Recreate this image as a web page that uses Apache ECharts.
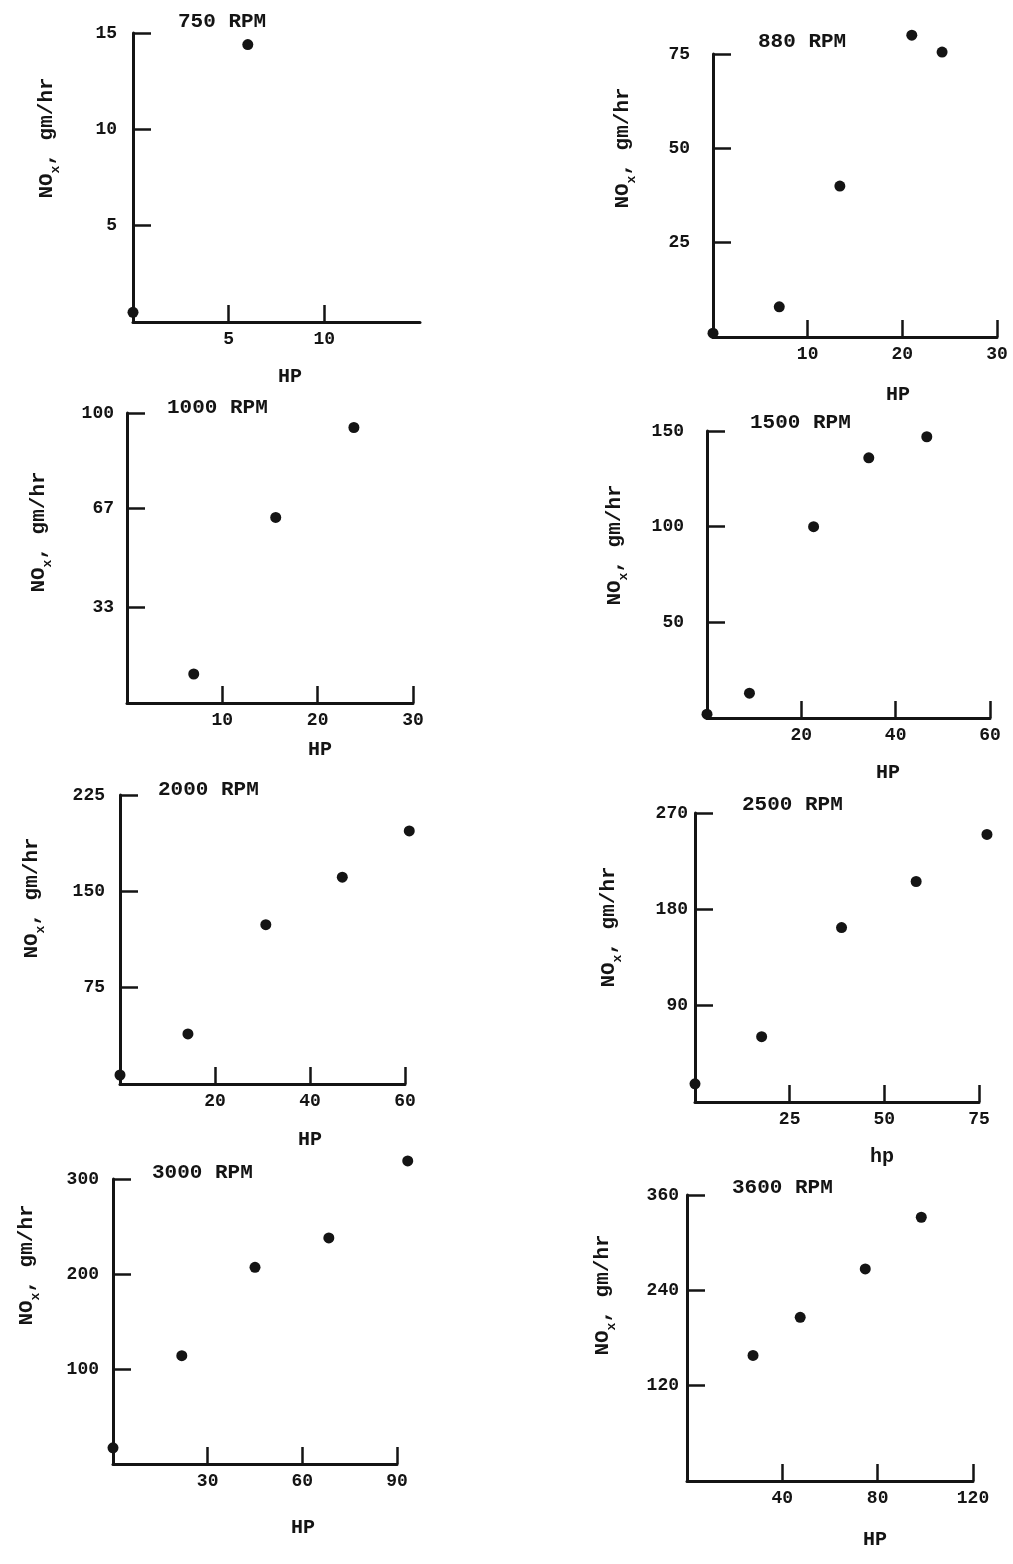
<!DOCTYPE html>
<html>
<head>
<meta charset="utf-8">
<script src="https://cdn.jsdelivr.net/npm/echarts@6/dist/echarts.min.js"></script>
<style>
html,body{margin:0;padding:0;background:#fff;}
#chart{width:1013px;height:1564px;}
</style>
</head>
<body>
<div id="chart"></div>
<script>
// ---- data ----
const titles = ['750 RPM','880 RPM','1000 RPM','1500 RPM','2000 RPM','2500 RPM','3000 RPM','3600 RPM'];
const xNames = ['HP','HP','HP','HP','HP','hp','HP','HP'];
const xMax = [15, 30, 30, 60, 60, 75, 90, 120];
const yMax = [15, 75, 100, 150, 225, 270, 300, 360];
const xTickValues = [[5,10],[10,20,30],[10,20,30],[20,40,60],[20,40,60],[25,50,75],[30,60,90],[40,80,120]];
const yTickValues = [[5,10,15],[25,50,75],[33,67,100],[50,100,150],[75,150,225],[90,180,270],[100,200,300],[120,240,360]];

const hp750  = [0, 6];
const nox750 = [0.5, 14.4];
const hp880  = [0, 7, 13.4, 21, 24.2];
const nox880 = [1, 8, 40, 80, 75.5];
const hp1000  = [7, 15.6, 23.8];
const nox1000 = [10, 64, 95];
const hp1500  = [0, 9, 22.6, 34.3, 46.6];
const nox1500 = [2, 13, 100, 136, 147];
const hp2000  = [0, 14.3, 30.7, 46.8, 60.9];
const nox2000 = [7, 39, 124, 161, 197];
const hp2500  = [0, 17.6, 38.7, 58.4, 77.1];
const nox2500 = [17, 61, 163, 206, 250];
const hp3000  = [0, 21.8, 45, 68.4, 93.4];
const nox3000 = [17, 114, 207, 238, 319];
const hp3600  = [27.7, 47.5, 74.8, 98.3];
const nox3600 = [158, 206, 267, 332];

const hpSets  = [hp750, hp880, hp1000, hp1500, hp2000, hp2500, hp3000, hp3600];
const noxSets = [nox750, nox880, nox1000, nox1500, nox2000, nox2500, nox3000, nox3600];

// ---- layout (pixel boxes, separate from the data) ----
const layout = [
  {grid:[133,33,287,289],  title:[178,22],   xName:[290,377],  yName:[47,138],   yLabelMargin:16},
  {grid:[713,54,284,283],  title:[758,42],   xName:[898,395],  yName:[623,148],  yLabelMargin:23},
  {grid:[127,413,286,290], title:[167,408],  xName:[320,750],  yName:[39,532],   yLabelMargin:13},
  {grid:[707,431,283,287], title:[750,423],  xName:[888,773],  yName:[615,545],  yLabelMargin:23},
  {grid:[120,795,285,289], title:[158,790],  xName:[310,1140], yName:[32,898],   yLabelMargin:15},
  {grid:[695,813,284,289], title:[742,805],  xName:[882,1157], yName:[609,927],  yLabelMargin:7},
  {grid:[113,1179,284,285],title:[152,1173], xName:[303,1528], yName:[27,1265],  yLabelMargin:14},
  {grid:[687,1195,286,286],title:[732,1188], xName:[875,1540], yName:[603,1295], yLabelMargin:8}
];

const FONT = 'Liberation Mono';
const INK = '#141414';

const grids = [], xAxes = [], yAxes = [], series = [], titleComps = [];
layout.forEach((L, i) => {
  const [gl, gt, gw, gh] = L.grid;
  grids.push({left: gl, top: gt, width: gw, height: gh, containLabel: false, outerBoundsMode: 'none'});

  const gcx = gl + gw / 2, gcy = gt + gh / 2, axisY = gt + gh;
  const xdx = L.xName[0] - gcx;
  const xGap = L.xName[1] - axisY - 10;
  xAxes.push({
    type: 'value', gridIndex: i, min: 0, max: xMax[i],
    interval: xTickValues[i][1] - xTickValues[i][0],
    name: xNames[i], nameLocation: 'middle', nameGap: xGap,
    nameTextStyle: {fontFamily: FONT, fontWeight: 'bold', fontSize: 20, color: INK,
      padding: xdx >= 0 ? [0, 0, 0, 2 * xdx] : [0, -2 * xdx, 0, 0]},
    axisLine: {show: true, onZero: false, lineStyle: {color: INK, width: 3}},
    axisTick: {show: true, inside: true, length: 17, customValues: xTickValues[i], lineStyle: {color: INK, width: 2.5}},
    axisLabel: {show: true, customValues: xTickValues[i], margin: 8, fontFamily: FONT, fontWeight: 'bold', fontSize: 18, color: INK,
      formatter: v => (v === 0 ? '' : String(Math.round(v)))},
    splitLine: {show: false}
  });

  const ydy = gcy - L.yName[1];
  const yGap = gl - L.yName[0] - 15;
  yAxes.push({
    type: 'value', gridIndex: i, min: 0, max: yMax[i],
    interval: yMax[i] / 3,
    name: '{n|NO}{s|x}{n|, gm/hr}', nameLocation: 'middle', nameRotate: 90, nameGap: yGap,
    nameTextStyle: {
      fontFamily: FONT, fontWeight: 'bold', fontSize: 21, color: INK,
      padding: ydy >= 0 ? [0, 0, 0, 2 * ydy] : [0, -2 * ydy, 0, 0],
      rich: {
        n: {fontFamily: FONT, fontWeight: 'bold', fontSize: 21, color: INK, lineHeight: 30},
        s: {fontFamily: FONT, fontWeight: 'bold', fontSize: 13, color: INK, lineHeight: 30, verticalAlign: 'bottom'}
      }
    },
    axisLine: {show: true, onZero: false, lineStyle: {color: INK, width: 3}},
    axisTick: {show: true, inside: true, length: 18, customValues: yTickValues[i], lineStyle: {color: INK, width: 2.5}},
    axisLabel: {show: true, customValues: yTickValues[i], margin: L.yLabelMargin, fontFamily: FONT, fontWeight: 'bold', fontSize: 18, color: INK,
      formatter: v => (v === 0 ? '' : String(Math.round(v)))},
    splitLine: {show: false}
  });

  series.push({
    type: 'scatter', xAxisIndex: i, yAxisIndex: i, clip: false, z: 5,
    symbol: 'circle', symbolSize: 11,
    itemStyle: {color: INK, opacity: 1},
    data: hpSets[i].map((h, k) => [h, noxSets[i][k]])
  });

  titleComps.push({
    text: titles[i], left: L.title[0], top: L.title[1] - 11, padding: 0,
    textStyle: {fontFamily: FONT, fontWeight: 'bold', fontSize: 21, color: INK}
  });
});

const chart = echarts.init(document.getElementById('chart'), null, {renderer: 'canvas'});
chart.setOption({
  backgroundColor: '#ffffff',
  animation: false,
  title: titleComps,
  grid: grids,
  xAxis: xAxes,
  yAxis: yAxes,
  series: series
});
</script>
</body>
</html>
